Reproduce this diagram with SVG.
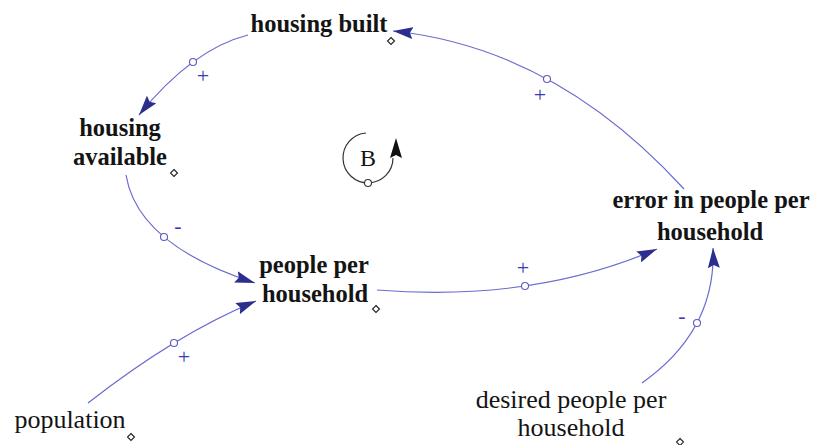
<svg xmlns="http://www.w3.org/2000/svg" width="815" height="445" viewBox="0 0 815 445">
  <style>
    .bold { font-family: "Liberation Serif", "Times New Roman", serif; font-weight: bold; font-size: 24.5px; fill: #141414; text-anchor: middle; }
    .reg { font-family: "Liberation Serif", "Times New Roman", serif; font-size: 26px; fill: #141414; text-anchor: middle; }
    .link { fill: none; stroke: #6a6ad0; stroke-width: 1.2; marker-end: url(#head); }
    .dot { fill: #ffffff; stroke: #5a5ac0; stroke-width: 1.1; }
    .diamond { fill: #ffffff; stroke: #222222; stroke-width: 1.1; }
    .sign { font-family: "Liberation Serif", "Times New Roman", serif; font-size: 22px; fill: #3a3ab4; text-anchor: middle; }
  </style>
  <defs>
    <marker id="head" viewBox="0 0 20 12" markerWidth="20" markerHeight="12" refX="20" refY="6" orient="auto" markerUnits="userSpaceOnUse">
      <path d="M0,0 L20,6 L0,12 L3,6 z" fill="#2b2e8c"/>
    </marker>
  </defs>
  <rect width="815" height="445" fill="#ffffff"/>

  <!-- links -->
  <g id="connectors">
    <path class="link" d="M248,35 Q192.5,49 139,115"/>
    <path class="link" d="M126,175 Q137.5,245 255,283"/>
    <path class="link" d="M88,403 Q176,334 256,301"/>
    <path class="link" d="M377,290 Q533,302.5 657,249"/>
    <path class="link" d="M642,383 Q716.5,330.5 713,248"/>
    <path class="link" d="M684,189 Q555.5,48 393,31"/>
    <circle class="dot" cx="193" cy="62" r="3.5"/>
    <circle class="dot" cx="164" cy="237" r="3.5"/>
    <circle class="dot" cx="174" cy="343" r="3.5"/>
    <circle class="dot" cx="525" cy="286" r="3.5"/>
    <circle class="dot" cx="697" cy="323" r="3.5"/>
    <circle class="dot" cx="547" cy="79" r="3.5"/>
    <text class="sign" x="203" y="83">+</text>
    <text class="sign" x="178" y="233">-</text>
    <text class="sign" x="184" y="364">+</text>
    <text class="sign" x="523" y="275">+</text>
    <text class="sign" x="682" y="323">-</text>
    <text class="sign" x="540" y="102">+</text>
  </g>

  <!-- balancing loop marker -->
  <g id="loop-B">
    <path d="M366,133 A25,25 0 1 0 393,158" fill="none" stroke="#333333" stroke-width="1.2"/>
    <path d="M396,138 L402,158 L396,155 L390,158 z" fill="#111111"/>
    <circle cx="368" cy="183" r="3.5" fill="#ffffff" stroke="#333333" stroke-width="1.1"/>
    <text x="368" y="166" font-family="Liberation Serif, Times New Roman, serif" font-size="24" fill="#141414" text-anchor="middle">B</text>
  </g>

  <g id="housing-built">
    <text class="bold" x="319" y="32">housing built</text>
    <path class="diamond" d="M391,37.5 L394.5,41 L391,44.5 L387.5,41 z"/>
  </g>

  <g id="housing-available">
    <text class="bold" x="120" y="136">housing</text>
    <text class="bold" x="120" y="165">available</text>
    <path class="diamond" d="M174,169.5 L177.5,173 L174,176.5 L170.5,173 z"/>
  </g>

  <g id="people-per-household">
    <text class="bold" x="314" y="273">people per</text>
    <text class="bold" x="315" y="302">household</text>
    <path class="diamond" d="M376,305.5 L379.5,309 L376,312.5 L372.5,309 z"/>
  </g>

  <g id="error-in-people-per-household">
    <text class="bold" x="711" y="208">error in people per</text>
    <text class="bold" x="710" y="240">household</text>
  </g>

  <g id="population">
    <text class="reg" x="70" y="428">population</text>
    <path class="diamond" d="M131,433.5 L134.5,437 L131,440.5 L127.5,437 z"/>
  </g>

  <g id="desired-people-per-household">
    <text class="reg" x="571" y="408">desired people per</text>
    <text class="reg" x="571" y="436">household</text>
    <path class="diamond" d="M680,438.5 L683.5,442 L680,445.5 L676.5,442 z"/>
  </g>
</svg>
